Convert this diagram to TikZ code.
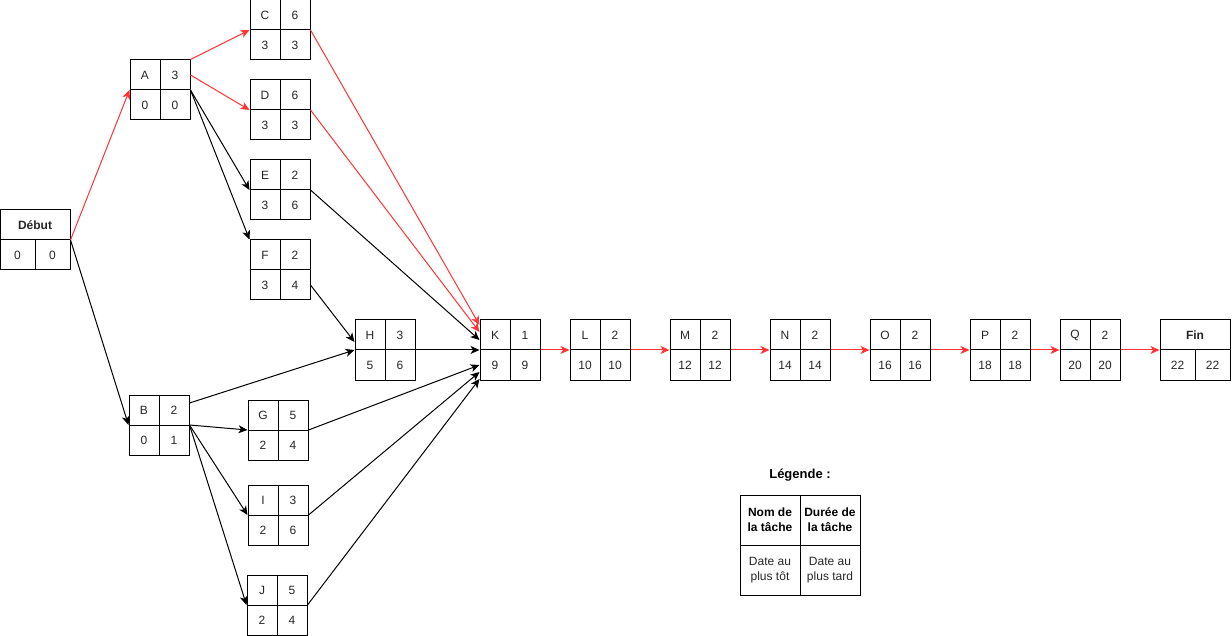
\documentclass[tikz,border=0pt]{standalone}
\usepackage{fontspec}
\setmainfont{Liberation Sans}
\usetikzlibrary{arrows.meta}
\definecolor{critique}{HTML}{FF3333}

% Task box: #1 name, #2 left x, #3 top y, #4 task, #5 duration, #6 earliest, #7 latest
\newcommand{\tache}[7]{%
  \node[cell box] (#1) at (#2+30,#3+30) {};
  \draw[thin line] (#1.north) -- (#1.south) (#1.west) -- (#1.east);
  \node[txt] at ([shift={(-15,-15)}]#1.center) {#4};
  \node[txt] at ([shift={(15,-15)}]#1.center) {#5};
  \node[txt] at ([shift={(-15,15)}]#1.center) {#6};
  \node[txt] at ([shift={(15,15)}]#1.center) {#7};
}
% Start/end box: wide header with two dates below
\newcommand{\borne}[6]{%
  \node[cell box, minimum width=70pt] (#1) at (#2+35,#3+30) {};
  \draw[thin line] (#1.west) -- (#1.east) (#1.center) -- (#1.south);
  \node[txt, font=\fontsize{12}{14}\selectfont\bfseries] at ([shift={(0,-15)}]#1.center) {#4};
  \node[txt] at ([shift={(-17.5,15)}]#1.center) {#5};
  \node[txt] at ([shift={(17.5,15)}]#1.center) {#6};
}

\begin{document}
\begin{tikzpicture}[x=1pt, y=-1pt,
  cell box/.style={draw=black, line width=1pt, minimum width=60pt, minimum height=60pt, inner sep=0pt},
  thin line/.style={line width=1pt},
  txt/.style={inner sep=0pt, font=\fontsize{12}{14}\selectfont, text=black!85},
  link/.style={line width=1pt},
  crit/.style={link, draw=critique, -{Stealth[length=9pt, width=8pt, inset=2.5pt, fill=critique]}},
  norm/.style={link, draw=black, -{Stealth[length=9pt, width=8pt, inset=2.5pt]}}]
\useasboundingbox (0,0) rectangle (1232,636);

\borne{debut}{0}{210}{Début}{0}{0}
\tache{A}{130}{60}{A}{3}{0}{0}
\tache{B}{129}{395}{B}{2}{0}{1}
\tache{C}{250}{0}{C}{6}{3}{3}
\tache{D}{250}{80}{D}{6}{3}{3}
\tache{E}{250}{160}{E}{2}{3}{6}
\tache{F}{250}{240}{F}{2}{3}{4}
\tache{G}{248}{400}{G}{5}{2}{4}
\tache{I}{248}{485}{I}{3}{2}{6}
\tache{J}{247}{575}{J}{5}{2}{4}
\tache{H}{355}{320}{H}{3}{5}{6}
\tache{K}{480}{320}{K}{1}{9}{9}
\tache{L}{570}{320}{L}{2}{10}{10}
\tache{M}{670}{320}{M}{2}{12}{12}
\tache{N}{770}{320}{N}{2}{14}{14}
\tache{O}{870}{320}{O}{2}{16}{16}
\tache{P}{970}{320}{P}{2}{18}{18}
\tache{Q}{1060}{320}{Q}{2}{20}{20}
\borne{fin}{1160}{320}{Fin}{22}{22}

% Critical path (red)
\draw[crit] (debut.east) -- (A.west);
\draw[crit] (A.north east) -- (C.west);
\draw[crit] ([shift={(0,-15)}]A.east) -- (D.west);
\draw[crit] (C.east) -- ([shift={(0,-25)}]K.west);
\draw[crit] (D.east) -- ([shift={(0,-18)}]K.west);
\draw[crit] (K.east) -- (L.west);
\draw[crit] (L.east) -- (M.west);
\draw[crit] (M.east) -- (N.west);
\draw[crit] (N.east) -- (O.west);
\draw[crit] (O.east) -- (P.west);
\draw[crit] (P.east) -- (Q.west);
\draw[crit] (Q.east) -- (fin.west);

% Other dependencies (black)
\draw[norm] (debut.east) -- (B.west);
\draw[norm] (A.east) -- (E.west);
\draw[norm] (A.east) -- (F.north west);
\draw[norm] ([shift={(0,-22)}]B.east) -- (H.west);
\draw[norm] (B.east) -- (G.west);
\draw[norm] (B.east) -- (I.west);
\draw[norm] (B.east) -- (J.west);
\draw[norm] ([shift={(0,15)}]F.east) -- ([shift={(0,-8)}]H.west);
\draw[norm] (E.east) -- ([shift={(0,-10)}]K.west);
\draw[norm] (H.east) -- (K.west);
\draw[norm] (G.east) -- ([shift={(0,15)}]K.west);
\draw[norm] (I.east) -- ([shift={(0,22)}]K.west);
\draw[norm] (J.east) -- ([shift={(0,29)}]K.west);

% Legend
\node[txt, font=\fontsize{13}{15}\selectfont\bfseries, text=black] (legtitle) at (800,475) {Légende :};
\node[draw=black, line width=1pt, minimum width=120pt, minimum height=100pt, inner sep=0pt] (leg) at (800,545) {};
\draw[thin line] (leg.north) -- (leg.south) (leg.west) -- (leg.east);
\node[txt, align=center, font=\fontsize{12}{15}\selectfont\bfseries, text=black] at ([shift={(-30,-25)}]leg.center) {Nom de\\la tâche};
\node[txt, align=center, font=\fontsize{12}{15}\selectfont\bfseries, text=black] at ([shift={(30,-25)}]leg.center) {Durée de\\la tâche};
\node[txt, align=center, font=\fontsize{12}{15}\selectfont] at ([shift={(-30,25)}]leg.center) {Date au\\plus tôt};
\node[txt, align=center, font=\fontsize{12}{15}\selectfont] at ([shift={(30,25)}]leg.center) {Date au\\plus tard};
\end{tikzpicture}
\end{document}
